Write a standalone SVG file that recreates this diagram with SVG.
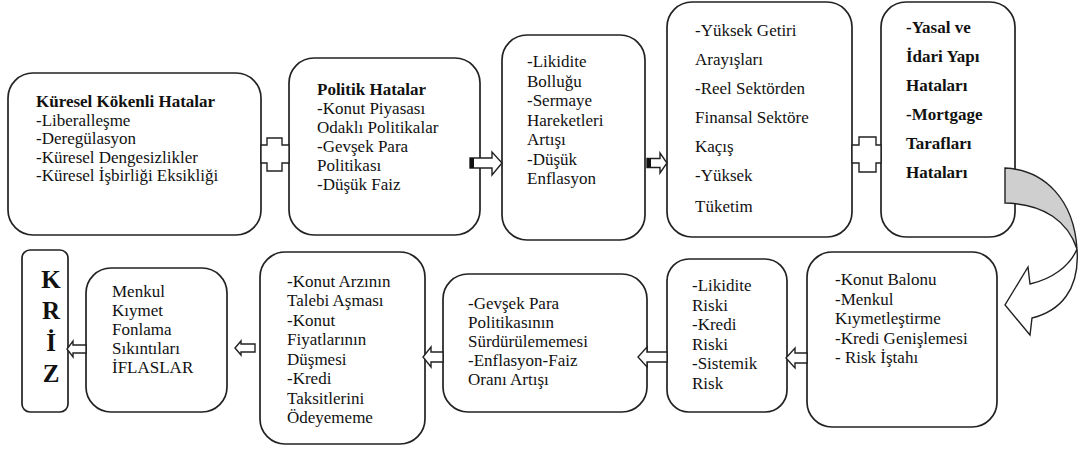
<svg xmlns="http://www.w3.org/2000/svg" width="1078" height="452" viewBox="0 0 1078 452">
<style>
.box{fill:#fff;stroke:#222;stroke-width:1.7}
.t{font-family:"Liberation Serif","Times New Roman",serif;font-size:17px;fill:#111}
.b{font-weight:bold}
.k{font-family:"Liberation Serif","Times New Roman",serif;font-size:25px;font-weight:bold;fill:#111;text-anchor:middle}
.c{fill:#fff;stroke:#222;stroke-width:1.4;stroke-linejoin:miter}
.tail{fill:#111}
</style>
<rect width="1078" height="452" fill="#fff"/>
<g id="n1">
<rect class="box" x="8" y="73" width="253" height="162" rx="25"/>
<text class="t"><tspan class="b" x="36" y="107">Küresel Kökenli Hatalar</tspan><tspan x="36" y="125.5">-Liberalleşme</tspan><tspan x="36" y="144">-Deregülasyon</tspan><tspan x="36" y="162.5">-Küresel Dengesizlikler</tspan><tspan x="36" y="181">-Küresel İşbirliği Eksikliği</tspan></text>
</g>
<g id="n2">
<rect class="box" x="289" y="58" width="191" height="177" rx="25"/>
<text class="t"><tspan class="b" x="317" y="95">Politik Hatalar</tspan><tspan x="317" y="114">-Konut Piyasası</tspan><tspan x="317" y="133">Odaklı Politikalar</tspan><tspan x="317" y="152">-Gevşek Para</tspan><tspan x="317" y="171">Politikası</tspan><tspan x="317" y="190">-Düşük Faiz</tspan></text>
</g>
<g id="n3">
<rect class="box" x="502" y="35" width="143" height="205" rx="25"/>
<text class="t"><tspan x="527" y="67">-Likidite</tspan><tspan x="527" y="86.5">Bolluğu</tspan><tspan x="527" y="106">-Sermaye</tspan><tspan x="527" y="125.5">Hareketleri</tspan><tspan x="527" y="145">Artışı</tspan><tspan x="527" y="164.5">-Düşük</tspan><tspan x="527" y="184">Enflasyon</tspan></text>
</g>
<g id="n4">
<rect class="box" x="667" y="2" width="185" height="235" rx="25"/>
<text class="t"><tspan x="695" y="36">-Yüksek Getiri</tspan><tspan x="695" y="65">Arayışları</tspan><tspan x="695" y="94">-Reel Sektörden</tspan><tspan x="695" y="123">Finansal Sektöre</tspan><tspan x="695" y="152">Kaçış</tspan><tspan x="695" y="181">-Yüksek</tspan><tspan x="695" y="212">Tüketim</tspan></text>
</g>
<g id="n5">
<rect class="box" x="881" y="2" width="134" height="235" rx="25"/>
<text class="t b"><tspan x="906" y="33">-Yasal ve</tspan><tspan x="906" y="62">İdari Yapı</tspan><tspan x="906" y="91">Hataları</tspan><tspan x="906" y="120">-Mortgage</tspan><tspan x="906" y="149">Tarafları</tspan><tspan x="906" y="178">Hataları</tspan></text>
</g>
<g id="n6">
<rect class="box" x="807" y="252" width="190" height="175" rx="25"/>
<text class="t"><tspan x="835" y="285">-Konut Balonu</tspan><tspan x="835" y="304.5">-Menkul</tspan><tspan x="835" y="324">Kıymetleştirme</tspan><tspan x="835" y="343.5">-Kredi Genişlemesi</tspan><tspan x="835" y="363">- Risk İştahı</tspan></text>
</g>
<g id="n7">
<rect class="box" x="667" y="259" width="120" height="153" rx="22"/>
<text class="t"><tspan x="692" y="291">-Likidite</tspan><tspan x="692" y="310.5">Riski</tspan><tspan x="692" y="330">-Kredi</tspan><tspan x="692" y="349.5">Riski</tspan><tspan x="692" y="369">-Sistemik</tspan><tspan x="692" y="388.5">Risk</tspan></text>
</g>
<g id="n8">
<rect class="box" x="443" y="274" width="204" height="138" rx="25"/>
<text class="t"><tspan x="468" y="309">-Gevşek Para</tspan><tspan x="468" y="328">Politikasının</tspan><tspan x="468" y="347">Sürdürülememesi</tspan><tspan x="468" y="366">-Enflasyon-Faiz</tspan><tspan x="468" y="385">Oranı Artışı</tspan></text>
</g>
<g id="n9">
<rect class="box" x="260" y="252" width="165" height="192" rx="25"/>
<text class="t"><tspan x="287" y="287">-Konut Arzının</tspan><tspan x="287" y="306">Talebi Aşması</tspan><tspan x="287" y="325.5">-Konut</tspan><tspan x="287" y="345">Fiyatlarının</tspan><tspan x="287" y="364.5">Düşmesi</tspan><tspan x="287" y="384">-Kredi</tspan><tspan x="287" y="403.5">Taksitlerini</tspan><tspan x="287" y="423">Ödeyememe</tspan></text>
</g>
<g id="n10">
<rect class="box" x="86" y="268" width="141" height="144" rx="25"/>
<text class="t"><tspan x="112" y="297">Menkul</tspan><tspan x="112" y="316">Kıymet</tspan><tspan x="112" y="335">Fonlama</tspan><tspan x="112" y="354">Sıkıntıları</tspan><tspan x="112" y="373">İFLASLAR</tspan></text>
</g>
<g id="kriz">
<rect class="box" x="22" y="250" width="46" height="162" rx="8"/>
<text class="k"><tspan x="51" y="288">K</tspan><tspan x="51" y="319">R</tspan><tspan x="51" y="351">İ</tspan><tspan x="51" y="382">Z</tspan></text>
</g>
<g id="connectors">
<polygon class="c" points="261,145 267,145 267,138 282,138 282,145 289,145 289,163 282,163 282,171 267,171 267,163 261,163"/>
<polygon class="c" points="470,158 492,158 492,152 502,163 492,175 492,168 470,168"/>
<rect class="tail" x="470" y="158" width="4" height="10"/>
<polygon class="c" points="647,158.5 660,158.5 660,153 667,163 660,173 660,167.5 647,167.5"/>
<rect class="tail" x="647" y="158.5" width="4" height="9"/>
<polygon class="c" points="852,145 859,145 859,137 876,137 876,145 881,145 881,163 876,163 876,172 859,172 859,163 852,163"/>
<path d="M1005,168 C1045,170 1074,200 1077,249 C1068,222 1045,204 1005,203 Z" fill="#cfcfcf" stroke="#222" stroke-width="1.4"/>
<path d="M1077,249 C1070,266 1052,279 1030,284 L1028,267 L1005,305 L1030,335 L1032,318 C1060,311 1080,290 1077,249 Z" fill="#fff" stroke="#222" stroke-width="1.4" stroke-linejoin="miter"/>
<polygon class="c" points="807,353 795,353 795,348 786,358 795,368 795,363 807,363"/>
<polygon class="c" points="667,352 647,352 647,347 638,357 647,367 647,362 667,362"/>
<polygon class="c" points="443,352 431,352 431,347 423,357 431,367 431,362 443,362"/>
<polygon class="c" points="255,344 241,344 241,341 235,348 241,355 241,352 255,352"/>
<polygon class="c" points="86,345 73,345 73,341 67,349 73,357 73,353 86,353"/>
</g>
</svg>
